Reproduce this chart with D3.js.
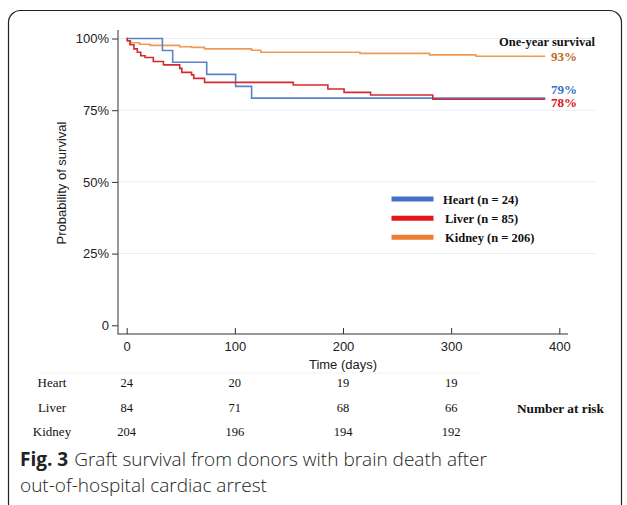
<!DOCTYPE html>
<html><head><meta charset="utf-8">
<script src="https://cdn.jsdelivr.net/npm/d3@7"></script>
<style>body{margin:0;background:#fff}svg{display:block}</style>
</head><body>
<svg id="c" width="627" height="505"></svg>
<script>
// ---- data ----
const heartT = [0, 33, 42.5, 74, 100.7, 115.5, 387];
const heartS = [100, 95.8, 91.7, 87.5, 83.3, 79.2, 79.2];
const liverT = [0, 0.5, 3, 6.7, 9.8, 13, 17, 24.6, 34, 49, 51, 60, 62, 72, 154, 186, 201, 225.5, 283, 387];
const liverS = [100, 99.2, 97.8, 96.4, 95.2, 94.0, 93.4, 92.0, 90.8, 89.6, 88.2, 87.3, 86.1, 84.7, 83.8, 82.4, 81.2, 80.3, 78.8, 78.8];
const kidneyT = [0, 0.5, 3.7, 12, 21.5, 49, 60, 72, 115.5, 124, 215.6, 280, 323, 387];
const kidneyS = [100, 99.2, 98.5, 98.0, 97.6, 97.1, 96.9, 96.4, 95.9, 95.2, 94.8, 94.3, 93.8, 93.8];
const seriesNames = ["Heart", "Liver", "Kidney"];
const legendLabels = ["Heart (n = 24)", "Liver (n = 85)", "Kidney (n = 206)"];
const endLabels = ["79%", "78%", "93%"];
const yTicks = [0, 25, 50, 75, 100];
const yTickLabels = ["0", "25%", "50%", "75%", "100%"];
const xTicks = [0, 100, 200, 300, 400];
const riskTimes = [0, 100, 200, 300];
const riskHeart = [24, 20, 19, 19];
const riskLiver = [84, 71, 68, 66];
const riskKidney = [204, 196, 194, 192];

const colors = ["#5b82c4", "#d42a2f", "#ee9a55"];
const legendColors = ["#4472c4", "#e8141b", "#ed7d31"];
const labelColors = ["#3b6fc4", "#e0101a", "#c0661f"];

const svg = d3.select("#c");
const x = d3.scaleLinear().domain([0, 400]).range([126.7, 559.3]);
const y = d3.scaleLinear().domain([0, 100]).range([325.3, 38.5]);

// frame
svg.append("rect").attr("x", 8.5).attr("y", 10.5).attr("width", 613).attr("height", 505)
  .attr("rx", 12).attr("fill", "none").attr("stroke", "#222").attr("stroke-width", 1.2);

// gridlines
svg.append("g").selectAll("line").data(yTicks.filter(d => d > 0)).join("line")
  .attr("x1", 119).attr("x2", 595).attr("y1", d => y(d)).attr("y2", d => y(d))
  .attr("stroke", "#e6edf5").attr("stroke-width", 1);

// axes
const yAxis = d3.axisLeft(y).tickValues(yTicks).tickFormat((d, i) => yTickLabels[i]).tickSize(6).tickSizeOuter(0);
const gy = svg.append("g").attr("transform", "translate(118,0)").call(yAxis);
gy.select(".domain").attr("d", "M0,30V334.5");
const xAxis = d3.axisBottom(x).tickValues(xTicks).tickSize(6).tickSizeOuter(0);
const gx = svg.append("g").attr("transform", "translate(0,334)").call(xAxis);
gx.select(".domain").attr("d", "M118,0H568");
gx.selectAll(".tick line").attr("y1", 0).attr("y2", -6).attr("transform", null);
[gx, gy].forEach(g => {
  g.selectAll(".domain, .tick line").attr("stroke", "#333");
  g.selectAll("text").attr("font-family", "Liberation Sans, Arial, sans-serif").attr("font-size", 13).attr("fill", "#222");
});
gy.selectAll("text").attr("x", -9);
gx.selectAll("text").attr("y", 8);

svg.append("text").attr("transform", "translate(66,183) rotate(-90)").attr("text-anchor", "middle")
  .attr("font-family", "Liberation Sans, Arial, sans-serif").attr("font-size", 13).attr("fill", "#222")
  .text("Probability of survival");
svg.append("text").attr("x", 343).attr("y", 369).attr("text-anchor", "middle")
  .attr("font-family", "Liberation Sans, Arial, sans-serif").attr("font-size", 13).attr("fill", "#222")
  .text("Time (days)");
svg.append("line").attr("x1", 40).attr("x2", 480).attr("y1", 373).attr("y2", 373).attr("stroke", "#f3f3f3");

// curves
const line = d3.line().x(d => x(d[0])).y(d => y(d[1])).curve(d3.curveStepAfter);
const series = [d3.zip(heartT, heartS), d3.zip(liverT, liverS), d3.zip(kidneyT, kidneyS)];
[2, 0, 1].forEach(i => {
  svg.append("path").datum(series[i]).attr("d", line).attr("fill", "none")
    .attr("stroke", colors[i]).attr("stroke-width", 1.6);
});

// end labels
const serif = "Liberation Serif, Times New Roman, serif";
svg.append("text").attr("x", 595).attr("y", 46).attr("text-anchor", "end")
  .attr("font-family", serif).attr("font-weight", "bold").attr("font-size", 12.5).attr("fill", "#111")
  .text("One-year survival");
const endYs = [93.5, 107, 61];
endLabels.forEach((t, i) => {
  svg.append("text").attr("x", 551).attr("y", endYs[i])
    .attr("font-family", serif).attr("font-weight", "bold").attr("font-size", 13).attr("fill", labelColors[i]).text(t);
});

// legend
const legY = [199, 218.3, 237.3];
const legX = [443, 445, 445];
seriesNames.forEach((n, i) => {
  svg.append("line").attr("x1", 391.5).attr("x2", 433.5).attr("y1", legY[i]).attr("y2", legY[i])
    .attr("stroke", legendColors[i]).attr("stroke-width", 5);
  svg.append("text").attr("x", legX[i]).attr("y", legY[i] + 4.5)
    .attr("font-family", serif).attr("font-weight", "bold").attr("font-size", 12.5).attr("fill", "#111")
    .text(legendLabels[i]);
});

// risk table
const risks = [riskHeart, riskLiver, riskKidney];
const rowY = [387, 412, 436];
seriesNames.forEach((n, i) => {
  svg.append("text").attr("x", 52).attr("y", rowY[i]).attr("text-anchor", "middle")
    .attr("font-family", serif).attr("font-size", 13).attr("fill", "#111").text(n);
  svg.append("g").selectAll("text").data(riskTimes).join("text")
    .attr("x", d => x(d)).attr("y", rowY[i]).attr("text-anchor", "middle")
    .attr("font-family", serif).attr("font-size", 12.5).attr("fill", "#111")
    .text((d, j) => risks[i][j]);
});
svg.append("text").attr("x", 517).attr("y", rowY[1] + 1).attr("font-family", serif).attr("font-weight", "bold")
  .attr("font-size", 13.3).attr("fill", "#111").text("Number at risk");

// caption
const cap = svg.append("text").attr("x", 20).attr("y", 466).attr("font-family", "Open Sans, Noto Sans, sans-serif")
  .attr("font-size", 19).attr("fill", "#222");
cap.append("tspan").attr("font-weight", "bold").text("Fig. 3");
cap.append("tspan").attr("font-weight", 300).attr("dx", 6).text("Graft survival from donors with brain death after");
svg.append("text").attr("x", 20).attr("y", 492).attr("font-family", "Open Sans, Noto Sans, sans-serif")
  .attr("font-size", 19).attr("font-weight", 300).attr("fill", "#222").text("out-of-hospital cardiac arrest");
</script>
</body></html>
